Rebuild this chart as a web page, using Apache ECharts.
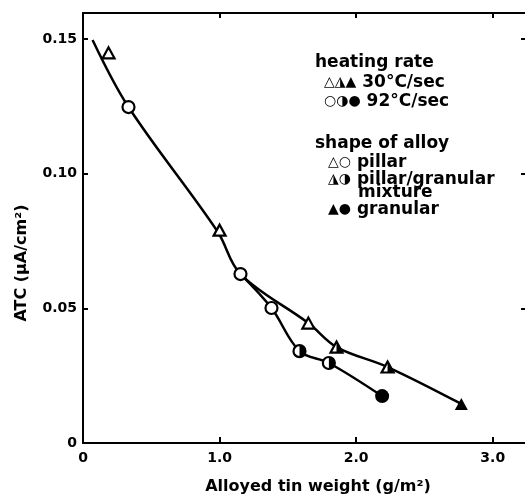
<!DOCTYPE html>
<html>
<head>
<meta charset="utf-8">
<title>ATC vs alloyed tin weight</title>
<script src="https://cdn.jsdelivr.net/npm/echarts@6/dist/echarts.min.js"></script>
<style>
  html, body { margin: 0; padding: 0; background: #fff; }
  #chart { width: 525px; height: 503px; }
</style>
</head>
<body>
<div id="chart"></div>
<script>
  // axis ticks
  const xTicks = [0, 1.0, 2.0, 3.0]
  const yTicks = [0, 0.05, 0.10, 0.15]

  // curves
  const triCurve = [[0.07, 0.1496], [0.333, 0.1247], [0.985, 0.0785], [1.153, 0.0627], [1.65, 0.0445], [1.856, 0.0356], [2.23, 0.0282], [2.77, 0.0145]]
  const cirCurve = [[1.153, 0.0627], [1.38, 0.0501], [1.585, 0.0341], [1.80, 0.0297], [2.19, 0.0174]]

  // markers: 30C/sec triangles, 92C/sec circles
  const openTri = [[0.187, 0.1448], [1.0, 0.079], [1.65, 0.0445]]
  const halfTri = [[1.856, 0.0356], [2.23, 0.0282]]
  const fullTri = [[2.77, 0.0145]]
  const openCir = [[0.333, 0.1247], [1.153, 0.0627], [1.38, 0.0501]]
  const halfCir = [[1.585, 0.0341], [1.80, 0.0297]]
  const fullCir = [[2.19, 0.0174]]

  const FONT = "'DejaVu Sans', 'Liberation Sans', sans-serif"

  function setOptions(chart) {
    const curve = (data) => ({
      type: 'line', data: data, smooth: 0.35, showSymbol: false, z: 1,
      lineStyle: { color: '#000', width: 2.5 }, silent: true
    })
    const mark = (data, symbol, size, fill, extra) => Object.assign({
      type: 'scatter', data: data, symbol: symbol, symbolSize: size, z: 3,
      itemStyle: { color: fill, borderColor: '#000', borderWidth: fill === '#fff' ? 2.2 : 0, opacity: 1 }
    }, extra || {})
    const frame = { onZero: false, lineStyle: { color: '#000', width: 2 } }

    chart.setOption({
      animation: false,
      backgroundColor: '#fff',
      // right frame sits just past the window edge, only its ticks show
      grid: { left: 83, width: 448, top: 13, bottom: 60, outerBoundsMode: 'none' },
      xAxis: [{
        type: 'value', min: 0, max: 3.28, interval: 1,
        name: 'Alloyed tin weight (g/m²)', nameLocation: 'middle', nameGap: 36,
        nameTextStyle: { fontFamily: FONT, fontWeight: 'bold', fontSize: 16, color: '#000', padding: [0, 0, 0, 22] },
        axisLine: frame,
        axisTick: { inside: true, length: 6, lineStyle: { color: '#000', width: 2 } },
        axisLabel: {
          margin: 8, color: '#000', fontFamily: FONT, fontWeight: 'bold', fontSize: 14, showMaxLabel: false,
          formatter: (v) => xTicks.indexOf(v) < 0 ? '' : (v === 0 ? '0' : v.toFixed(1))
        },
        splitLine: { show: false }
      }, {
        type: 'value', position: 'top', min: 0, max: 3.28, interval: 1,
        axisLine: frame,
        axisTick: { inside: true, length: 5, lineStyle: { color: '#000', width: 2 } },
        axisLabel: { show: false }, splitLine: { show: false }
      }],
      yAxis: [{
        type: 'value', min: 0, max: 0.1596, interval: 0.05,
        name: 'ATC (μA/cm²)', nameLocation: 'middle', nameGap: 53,
        nameTextStyle: { fontFamily: FONT, fontWeight: 'bold', fontSize: 16, color: '#000', padding: [0, 70, 0, 0] },
        axisLine: frame,
        axisTick: { inside: true, length: 5, lineStyle: { color: '#000', width: 2 } },
        axisLabel: {
          margin: 6, color: '#000', fontFamily: FONT, fontWeight: 'bold', fontSize: 14, showMaxLabel: false,
          formatter: (v) => v === 0 ? '0' : v.toFixed(2)
        },
        splitLine: { show: false }
      }, {
        type: 'value', position: 'right', min: 0, max: 0.1596, interval: 0.05,
        axisLine: Object.assign({ show: true }, frame),
        axisTick: { inside: true, length: 10, lineStyle: { color: '#000', width: 2 } },
        axisLabel: { show: false }, splitLine: { show: false }
      }],
      series: [
        curve(triCurve),
        curve(cirCurve),
        mark(openTri, 'triangle', [12, 11], '#fff'),
        mark(halfTri, 'triangle', [12, 11], '#fff'),
        mark(halfTri, 'path://M0,0 L10,20 L0,20 Z', [6, 11], '#000', { symbolOffset: [3, 0], z: 4 }),
        mark(fullTri, 'triangle', [13, 12], '#000'),
        mark(openCir, 'circle', 12, '#fff'),
        mark(halfCir, 'circle', 12, '#fff'),
        mark(halfCir, 'path://M0,0 A10,10 0 0,1 0,20 Z', [6, 12], '#000', { symbolOffset: [3, 0], z: 4 }),
        mark(fullCir, 'circle', 14, '#000')
      ],
      graphic: legendTexts()
    })
  }

  // hand-made key, laid out like the original
  function legendTexts() {
    const rich = {
      s: { fontFamily: FONT, fontSize: 14, fill: '#000' },
      t: { fontFamily: FONT, fontWeight: 'bold', fontSize: 17, fill: '#000' }
    }
    const rows = [
      [315, 65, '{t|heating rate}'],
      [324, 85, '{s|△◮▲} {t|30°C/sec}'],
      [324, 104, '{s|○◑●} {t|92°C/sec}'],
      [315, 146, '{t|shape of alloy}'],
      [328, 165, '{s|△○} {t|pillar}'],
      [328, 182, '{s|◮◑} {t|pillar/granular}'],
      [358, 195, '{t|mixture}'],
      [328, 212, '{s|▲●} {t|granular}']
    ]
    return rows.map(([x, y, txt]) => ({
      type: 'text', left: x, top: y - 11, z: 10,
      style: { text: txt, rich: rich, fill: '#000', fontFamily: FONT, fontWeight: 'bold', fontSize: 17 }
    }))
  }

  function initChart() {
    const chart = echarts.init(document.getElementById('chart'))
    setOptions(chart)
  }
  initChart()
</script>
</body>
</html>
